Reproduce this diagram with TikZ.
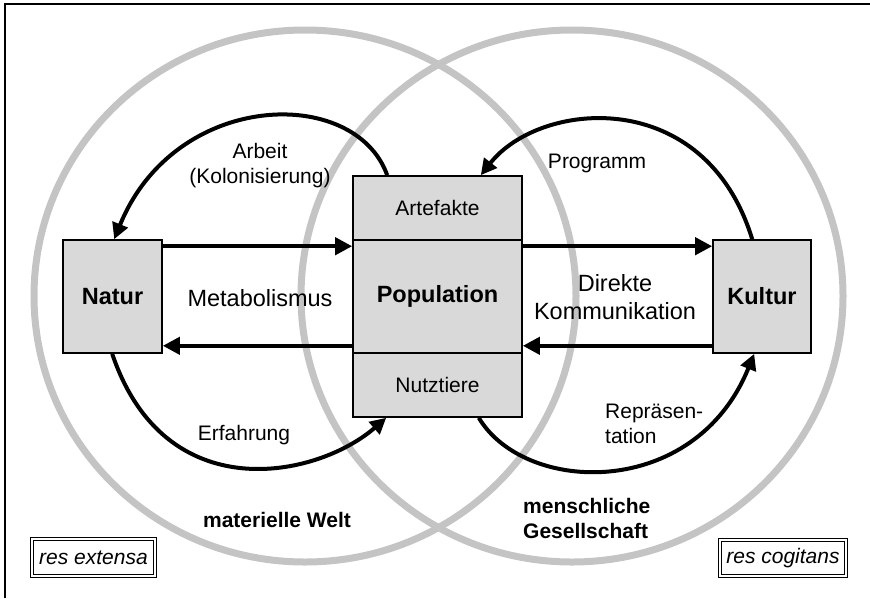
\documentclass[tikz,border=0pt]{standalone}
\usepackage{fontspec}
\setmainfont{Liberation Sans}
\usetikzlibrary{arrows.meta}
\definecolor{ring}{RGB}{196,196,196}
\definecolor{boxfill}{RGB}{217,217,217}
\begin{document}
\begin{tikzpicture}[x=1pt,y=-1pt,
  ringline/.style={draw=ring,line width=7pt},
  greybox/.style={draw=black,fill=boxfill,line width=1.6pt,inner sep=0pt},
  bigtext/.style={font=\fontsize{23.5}{28}\selectfont,align=center},
  lab/.style={font=\fontsize{21}{25}\selectfont,align=center},
  arr/.style={line width=4pt,-{Triangle[length=17pt,width=17pt]}},
  carr/.style={line width=4pt,-{Triangle[length=16pt,width=16pt]}},
  resbox/.style={draw=black,double,double distance=2pt,line width=1pt,inner sep=0pt,font=\fontsize{21}{25}\selectfont\itshape}
]
\useasboundingbox (0,0) rectangle (870,598);
% frame
\draw[line width=1.5pt] (5,598) -- (5,4) -- (870,4);
% circles
\draw[ringline] (305,296) ellipse [x radius=271, y radius=266];
\draw[ringline] (572,296) ellipse [x radius=271, y radius=266];
% boxes
\node[greybox,minimum width=99pt,minimum height=113pt,bigtext] (natur) at (112.5,296.5) {\bfseries Natur};
\node[greybox,minimum width=169pt,minimum height=64pt,lab] (art) at (437.5,208) {Artefakte};
\node[greybox,minimum width=169pt,minimum height=113pt,bigtext] (pop) at (437.5,296.5) {\bfseries Population};
\node[greybox,minimum width=169pt,minimum height=64pt,lab] (nutz) at (437.5,385) {Nutztiere};
\node[greybox,minimum width=98pt,minimum height=113pt,bigtext] (kultur) at (762,296.5) {\bfseries Kultur};
% straight arrows
\draw[arr] ([yshift=-7pt]natur.north east) -- ([yshift=-7pt]pop.north west);
\draw[arr] ([yshift=8pt]pop.south west) -- ([yshift=8pt]natur.south east);
\draw[arr] ([yshift=-7pt]pop.north east) -- ([yshift=-7pt]kultur.north west);
\draw[arr] ([yshift=8pt]kultur.south west) -- ([yshift=8pt]pop.south east);
% curved arrows
\draw[carr] ([xshift=35pt]art.north west) .. controls (355,85) and (175,90) .. ([xshift=52pt]natur.north west);
\draw[carr] ([xshift=40pt]kultur.north west) .. controls (705,85) and (540,100) .. ([xshift=-42pt]art.north east);
\draw[carr] ([xshift=50pt]natur.south west) .. controls (165,510) and (317,478) .. ([xshift=34pt]nutz.south west);
\draw[carr] ([xshift=-44pt]nutz.south east) .. controls (525,495) and (695,500) .. ([xshift=42pt]kultur.south west);
% labels
\node[lab] (arbeit) at (260,166) {Arbeit\\(Kolonisierung)};
\node[lab] (programm) at (597,163) {Programm};
\node[bigtext] (metab) at (260,298) {Metabolismus};
\node[bigtext] (direkt) at (615,297) {Direkte\\Kommunikation};
\node[lab] (erf) at (244,435) {Erfahrung};
\node[lab,align=left,anchor=west,inner sep=0pt] (repr) at (605,424) {Repräsen-\\tation};
\node[lab] (matw) at (277,520) {\bfseries materielle Welt};
\node[lab,align=left,anchor=west,inner sep=0pt] (mensch) at (523,518) {\bfseries menschliche\\\bfseries Gesellschaft};
\node[resbox,minimum width=123pt,minimum height=37pt] (resext) at (93.5,557.5) {res extensa};
\node[resbox,minimum width=126pt,minimum height=36pt] (rescog) at (783,558) {res cogitans};
\end{tikzpicture}
\end{document}
